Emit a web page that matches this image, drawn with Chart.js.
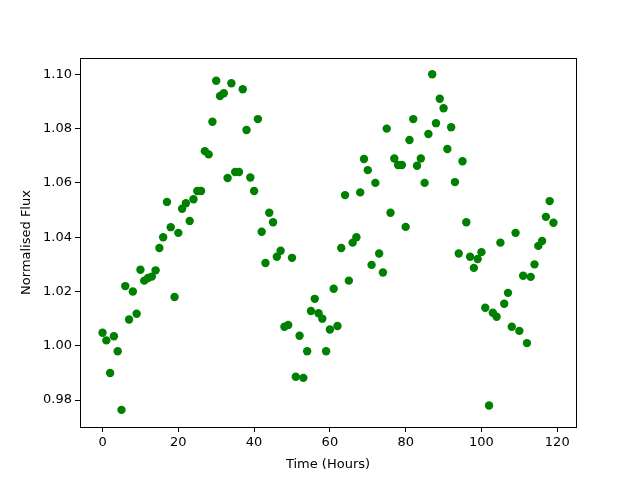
<!DOCTYPE html>
<html>
<head>
<meta charset="utf-8">
<script src="https://cdn.jsdelivr.net/npm/chart.js@4/dist/chart.umd.min.js"></script>
<style>
  html, body { margin: 0; padding: 0; background: #fff; }
  #wrap { width: 640px; height: 480px; }
</style>
</head>
<body>
<div id="wrap"><canvas id="fluxChart" width="640" height="480"></canvas></div>
<script>
// time in hours
const hours = [
    0, 1, 2, 3, 4, 5, 6, 7, 8, 9, 10, 11, 12, 13, 14, 15, 16, 17, 18, 19,
    20, 21, 22, 23, 24, 25, 26, 27, 28, 29, 30, 31, 32, 33, 34, 35, 36, 37, 38, 39,
    40, 41, 42, 43, 44, 45, 46, 47, 48, 49, 50, 51, 52, 53, 54, 55, 56, 57, 58, 59,
    60, 61, 62, 63, 64, 65, 66, 67, 68, 69, 70, 71, 72, 73, 74, 75, 76, 77, 78, 79,
    80, 81, 82, 83, 84, 85, 86, 87, 88, 89, 90, 91, 92, 93, 94, 95, 96, 97, 98, 99,
    100, 101, 102, 103, 104, 105, 106, 107, 108, 109, 110, 111, 112, 113, 114, 115, 116, 117, 118, 119
];

// normalised flux
const flux = [
    1.0048, 1.0020, 0.9900, 1.0035, 0.9980, 0.9764, 1.0220, 1.0097, 1.0200, 1.0118,
    1.0280, 1.0240, 1.0250, 1.0255, 1.0278, 1.0360, 1.0400, 1.0530, 1.0437, 1.0180,
    1.0416, 1.0505, 1.0525, 1.0460, 1.0540, 1.0570, 1.0570, 1.0717, 1.0705, 1.0825,
    1.0976, 1.0920, 1.0930, 1.0618, 1.0967, 1.0640, 1.0640, 1.0945, 1.0795, 1.0620,
    1.0570, 1.0835, 1.0420, 1.0305, 1.0490, 1.0455, 1.0328, 1.0350, 1.0070, 1.0077,
    1.0324, 0.9886, 1.0037, 0.9882, 0.9980, 1.0128, 1.0173, 1.0120, 1.0100, 0.9980,
    1.0060, 1.0210, 1.0073, 1.0360, 1.0555, 1.0240, 1.0380, 1.0400, 1.0565, 1.0688,
    1.0647, 1.0298, 1.0600, 1.0340, 1.0270, 1.0800, 1.0490, 1.0690, 1.0666, 1.0666,
    1.0438, 1.0758, 1.0835, 1.0663, 1.0690, 1.0600, 1.0780, 1.1000, 1.0820, 1.0910,
    1.0875, 1.0725, 1.0805, 1.0603, 1.0340, 1.0680, 1.0455, 1.0328, 1.0287, 1.0320,
    1.0345, 1.0140, 0.9780, 1.0122, 1.0107, 1.0380, 1.0155, 1.0195, 1.0070, 1.0416,
    1.0055, 1.0258, 1.0010, 1.0254, 1.0300, 1.0368, 1.0386, 1.0475, 1.0533, 1.0453
];

const xTicks = [0, 20, 40, 60, 80, 100, 120];
const yTicks = [0.98, 1.00, 1.02, 1.04, 1.06, 1.08, 1.10];

const points = hours.map((h, i) => ({ x: h, y: flux[i] }));

// black box round the plot area, like the matplotlib spines
const frame = {
    id: 'frame',
    afterDraw(chart) {
        const a = chart.chartArea;
        const ctx = chart.ctx;
        ctx.save();
        ctx.strokeStyle = '#000';
        ctx.lineWidth = 1;
        ctx.strokeRect(Math.round(a.left) + 0.5, Math.round(a.top) + 0.5,
            Math.round(a.right - a.left), Math.round(a.bottom - a.top));
        ctx.restore();
    }
};

Chart.defaults.font.family = 'DejaVu Sans';
Chart.defaults.font.size = 13;
Chart.defaults.color = '#000';

new Chart(document.getElementById('fluxChart'), {
    type: 'scatter',
    data: {
        datasets: [{
            data: points,
            backgroundColor: '#008000',
            borderWidth: 0,
            pointRadius: 4.2,
            pointHoverRadius: 4.2
        }]
    },
    options: {
        responsive: false,
        animation: false,
        events: [],
        layout: { padding: { left: 0, right: 64, top: 58, bottom: 0 } },
        plugins: {
            legend: { display: false },
            tooltip: { enabled: false }
        },
        scales: {
            x: {
                min: -5.95,
                max: 124.95,
                afterBuildTicks: scale => { scale.ticks = xTicks.map(v => ({ value: v })); },
                afterFit: scale => { scale.height = 53; },
                grid: { display: true, drawOnChartArea: false, drawTicks: true, tickLength: 5, color: '#000' },
                border: { display: false },
                ticks: { padding: 3, maxRotation: 0, callback: v => String(v) },
                title: { display: true, text: 'Time (Hours)', padding: { top: 2, bottom: 8 } }
            },
            y: {
                min: 0.9701,
                max: 1.1060,
                afterBuildTicks: scale => { scale.ticks = yTicks.map(v => ({ value: v })); },
                afterFit: scale => { scale.width = 80; },
                grid: { display: true, drawOnChartArea: false, drawTicks: true, tickLength: 5, color: '#000' },
                border: { display: false },
                ticks: { padding: 3, callback: v => v.toFixed(2) },
                title: { display: true, text: 'Normalised Flux', padding: { top: 19, bottom: 4 } }
            }
        }
    },
    plugins: [frame]
});
</script>
</body>
</html>
